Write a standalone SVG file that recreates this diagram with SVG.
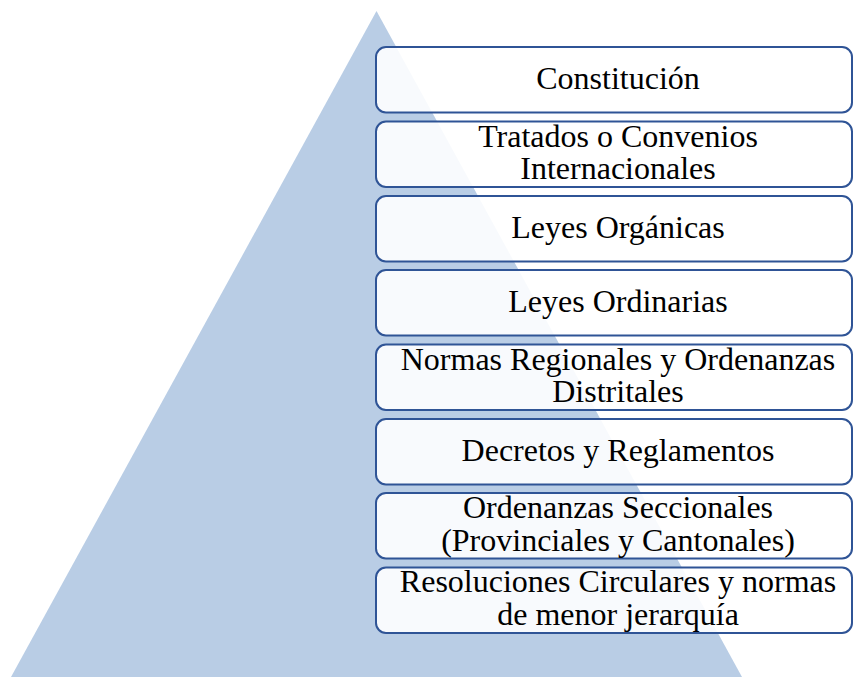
<svg xmlns="http://www.w3.org/2000/svg" width="854" height="677" viewBox="0 0 854 677">
<style>
.box{fill:#ffffff;fill-opacity:0.9;stroke:#2F5496;stroke-width:2}
.t{font-family:"Liberation Serif","Times New Roman",serif;font-size:32px;fill:#000;text-anchor:middle}
</style>
<rect width="854" height="677" fill="#ffffff"/>
<g id="pyramid"><polygon points="376.5,11 742,677 11,677" fill="#B9CDE5"/></g>
<g id="connectors"></g>
<g id="n1"><rect class="box" x="376" y="47" width="476" height="65.5" rx="10"/><text class="t" x="618" y="88.5">Constitución</text></g>
<g id="n2"><rect class="box" x="376" y="121.5" width="476" height="65.5" rx="10"/><text class="t" x="618" y="146.6">Tratados o Convenios</text><text class="t" x="618" y="179.2">Internacionales</text></g>
<g id="n3"><rect class="box" x="376" y="196" width="476" height="65.5" rx="10"/><text class="t" x="618" y="237.5">Leyes Orgánicas</text></g>
<g id="n4"><rect class="box" x="376" y="270" width="476" height="65.5" rx="10"/><text class="t" x="618" y="311.5">Leyes Ordinarias</text></g>
<g id="n5"><rect class="box" x="376" y="344.5" width="476" height="65.5" rx="10"/><text class="t" x="618" y="369.6">Normas Regionales y Ordenanzas</text><text class="t" x="618" y="402.2">Distritales</text></g>
<g id="n6"><rect class="box" x="376" y="419" width="476" height="65.5" rx="10"/><text class="t" x="618" y="460.5">Decretos y Reglamentos</text></g>
<g id="n7"><rect class="box" x="376" y="493" width="476" height="65.5" rx="10"/><text class="t" x="618" y="518.1">Ordenanzas Seccionales</text><text class="t" x="618" y="550.7">(Provinciales y Cantonales)</text></g>
<g id="n8"><rect class="box" x="376" y="567.5" width="476" height="65.5" rx="10"/><text class="t" x="618" y="592.2">Resoluciones Circulares y normas</text><text class="t" x="618" y="624.8">de menor jerarquía</text></g>
</svg>
